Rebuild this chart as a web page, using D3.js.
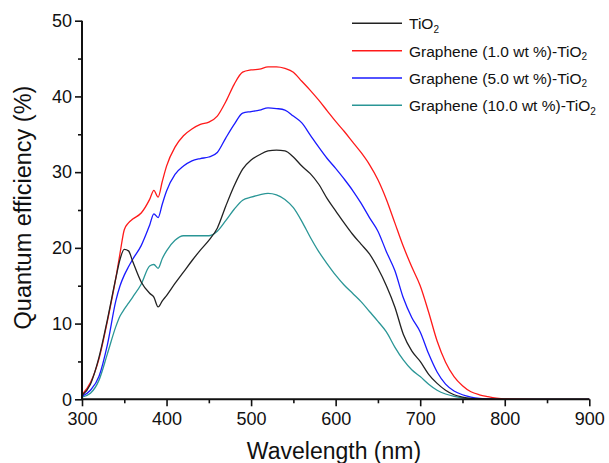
<!DOCTYPE html>
<html>
<head>
<meta charset="utf-8">
<script src="https://cdn.jsdelivr.net/npm/d3@7"></script>
<style>
  html, body { margin: 0; padding: 0; background: #fff; }
  svg { display: block; font-family: "Liberation Sans", Arial, sans-serif; }
</style>
</head>
<body>
<svg id="chart" width="609" height="463"></svg>
<script>
// ---------- data ----------
const wavelengths = [300,310,320,330,340,345,350,355,360,370,380,385,390,395,400,410,420,430,440,450,460,470,480,490,500,510,520,530,540,550,560,570,580,590,600,610,620,630,640,650,660,670,680,690,700,710,720,730,740,750,760,770,780,790,800,850,900];

const tio2 = [0.5,2.0,5.5,10.5,16.0,18.5,19.8,19.6,18.2,15.5,14.0,13.5,12.2,13.0,13.7,15.3,16.8,18.3,19.7,21.0,22.6,25.5,28.2,30.4,31.6,32.3,32.8,32.9,32.8,32.0,30.8,29.8,28.4,26.5,24.9,23.3,21.8,20.5,19.2,17.3,15.0,12.2,8.6,6.4,5.0,3.3,2.1,1.2,0.6,0.3,0.12,0.05,0.02,0,0,0,0];

const g1 = [0.6,2.2,5.3,10.3,16.0,19.3,22.4,23.3,23.8,24.6,26.4,27.6,26.7,28.8,30.8,33.3,34.8,35.7,36.3,36.6,37.4,39.3,41.6,43.2,43.5,43.6,43.9,43.9,43.7,43.2,42.0,40.8,39.5,38.1,36.7,35.4,34.0,32.6,31.0,29.0,26.4,23.3,20.2,17.5,15.0,11.5,7.7,4.9,3.0,1.8,1.0,0.6,0.35,0.15,0.05,0,0];

const g5 = [0.4,1.2,3.0,7.2,13.0,15.0,16.4,17.5,18.5,20.3,23.0,24.5,24.0,25.8,27.5,29.7,30.8,31.5,31.8,32.0,32.6,34.5,36.3,37.8,38.0,38.2,38.5,38.4,38.2,37.4,36.5,34.9,33.3,31.8,30.5,29.1,27.6,25.9,24.0,22.2,19.5,17.0,13.4,10.8,8.9,6.0,3.6,2.0,1.1,0.6,0.3,0.12,0.05,0.02,0,0,0];

const g10 = [0.3,0.8,2.5,6.0,9.6,11.0,11.9,12.7,13.5,15.2,17.6,17.8,17.3,18.6,19.6,21.0,21.6,21.6,21.6,21.6,22.2,23.6,25.1,26.3,26.7,27.0,27.2,27.0,26.4,25.3,23.5,21.4,19.5,17.9,16.4,15.1,14.0,12.9,11.6,10.3,8.9,6.9,5.2,3.9,3.0,2.0,1.2,0.7,0.4,0.2,0.08,0.03,0.01,0,0,0,0];

const seriesNames = ["TiO", "Graphene (1.0 wt %)-TiO", "Graphene (5.0 wt %)-TiO", "Graphene (10.0 wt %)-TiO"];
const seriesValues = [tio2, g1, g5, g10];
const seriesColors = ["#222222", "#ff1a1a", "#1a1aff", "#2a9696"];

const xTicks = [300,400,500,600,700,800,900];
const xMinorTicks = [350,450,550,650,750,850];
const yTicks = [0,10,20,30,40,50];
const yMinorTicks = [5,15,25,35,45];

// ---------- layout ----------
const W = 609, H = 463;
const margin = {left: 82, right: 19.7, top: 20.7, bottom: 63.7};
const svg = d3.select("#chart");

const x = d3.scaleLinear().domain([300, 900]).range([margin.left, W - margin.right]);
const y = d3.scaleLinear().domain([0, 50]).range([H - margin.bottom, margin.top]);

// ---------- lines ----------
const line = d3.line()
  .x((d, i) => x(wavelengths[i]))
  .y(d => y(d))
  .curve(d3.curveMonotoneX);

const drawOrder = [3, 2, 1, 0];
drawOrder.forEach(k => {
  svg.append("path")
    .datum(seriesValues[k])
    .attr("fill", "none")
    .attr("stroke", seriesColors[k])
    .attr("stroke-width", 1.3)
    .attr("stroke-linejoin", "round")
    .attr("d", line);
});

// ---------- axes ----------
const axisFont = 18;
const gx = svg.append("g").attr("transform", `translate(0,${y(0)})`)
  .call(d3.axisBottom(x).tickValues(xTicks).tickSize(7).tickPadding(6).tickFormat(d3.format("d")));
svg.append("g").attr("transform", `translate(0,${y(0)})`)
  .call(d3.axisBottom(x).tickValues(xMinorTicks).tickSize(4).tickFormat(""))
  .select(".domain").remove();

const gy = svg.append("g").attr("transform", `translate(${x(300)},0)`)
  .call(d3.axisLeft(y).tickValues(yTicks).tickSize(7).tickPadding(3).tickFormat(d3.format("d")));
svg.append("g").attr("transform", `translate(${x(300)},0)`)
  .call(d3.axisLeft(y).tickValues(yMinorTicks).tickSize(4).tickFormat(""))
  .select(".domain").remove();

svg.selectAll(".domain").attr("stroke", "#111").attr("stroke-width", 2);
svg.selectAll(".tick line").attr("stroke", "#111").attr("stroke-width", 1.6);
svg.selectAll(".tick text").attr("font-size", axisFont).attr("fill", "#111")
  .attr("font-family", "'Liberation Sans', Arial, sans-serif");
gx.select(".domain").attr("d", `M${x(300)},0H${x(900)}`);
gy.select(".domain").attr("d", `M0,${y(0)}V${y(50)}`);

// ---------- axis titles ----------
svg.append("text")
  .attr("x", 334).attr("y", 459)
  .attr("text-anchor", "middle")
  .attr("font-size", 23)
  .attr("fill", "#111")
  .text("Wavelength (nm)");

svg.append("text")
  .attr("transform", `translate(31,207.5) rotate(-90)`)
  .attr("text-anchor", "middle")
  .attr("font-size", 23.5)
  .attr("fill", "#111")
  .text("Quantum efficiency (%)");

// ---------- legend ----------
const legY = [23.3, 50.7, 77.9, 105.3];
const legend = svg.append("g");
seriesNames.forEach((name, i) => {
  legend.append("line")
    .attr("x1", 352).attr("x2", 402)
    .attr("y1", legY[i]).attr("y2", legY[i])
    .attr("stroke", seriesColors[i]).attr("stroke-width", 1.5);
  const t = legend.append("text")
    .attr("x", 409).attr("y", legY[i] + 5.8)
    .attr("font-size", 15.5)
    .attr("fill", "#111");
  t.append("tspan").text(name);
  t.append("tspan").attr("font-size", 10).attr("dy", 3.5).text("2");
});
</script>
</body>
</html>
